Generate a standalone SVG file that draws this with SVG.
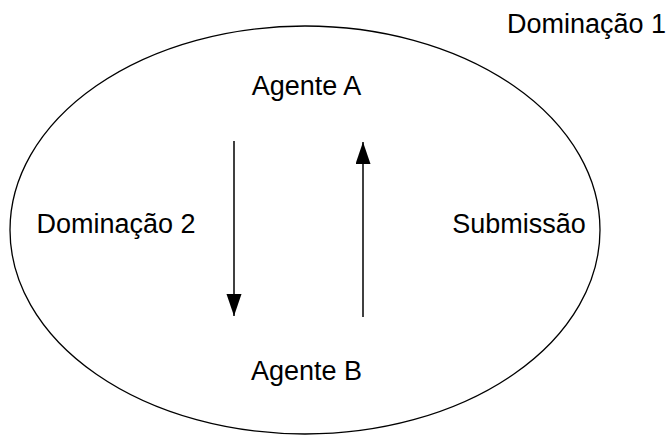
<svg xmlns="http://www.w3.org/2000/svg" width="668" height="435" viewBox="0 0 668 435">
<style>
text{font-family:"Liberation Sans",Arial,sans-serif;font-size:27px;fill:#000;text-anchor:middle}
.c{stroke:#000;stroke-width:1.5;fill:none}
</style>
<defs>
<marker id="ah" markerUnits="userSpaceOnUse" markerWidth="22" markerHeight="16" refX="22" refY="7.5" orient="auto">
<path d="M0,0 L22,7.5 L0,15 Z" fill="#000"/>
</marker>
</defs>
<rect width="668" height="435" fill="#fff"/>
<g id="boundary">
<ellipse cx="305" cy="230" rx="295" ry="204" fill="none" stroke="#000" stroke-width="1.3"/>
</g>
<g id="label-dominacao1"><text x="586.5" y="33">Dominação 1</text></g>
<g id="agente-a"><text x="306.5" y="95">Agente A</text></g>
<g id="agente-b"><text x="306.5" y="380">Agente B</text></g>
<g id="label-dominacao2"><text x="116" y="233">Dominação 2</text></g>
<g id="label-submissao"><text x="519" y="233">Submissão</text></g>
<g id="connectors">
<line class="c" x1="234" y1="141" x2="234" y2="316" marker-end="url(#ah)"/>
<line class="c" x1="363" y1="317" x2="363" y2="142" marker-end="url(#ah)"/>
</g>
</svg>
